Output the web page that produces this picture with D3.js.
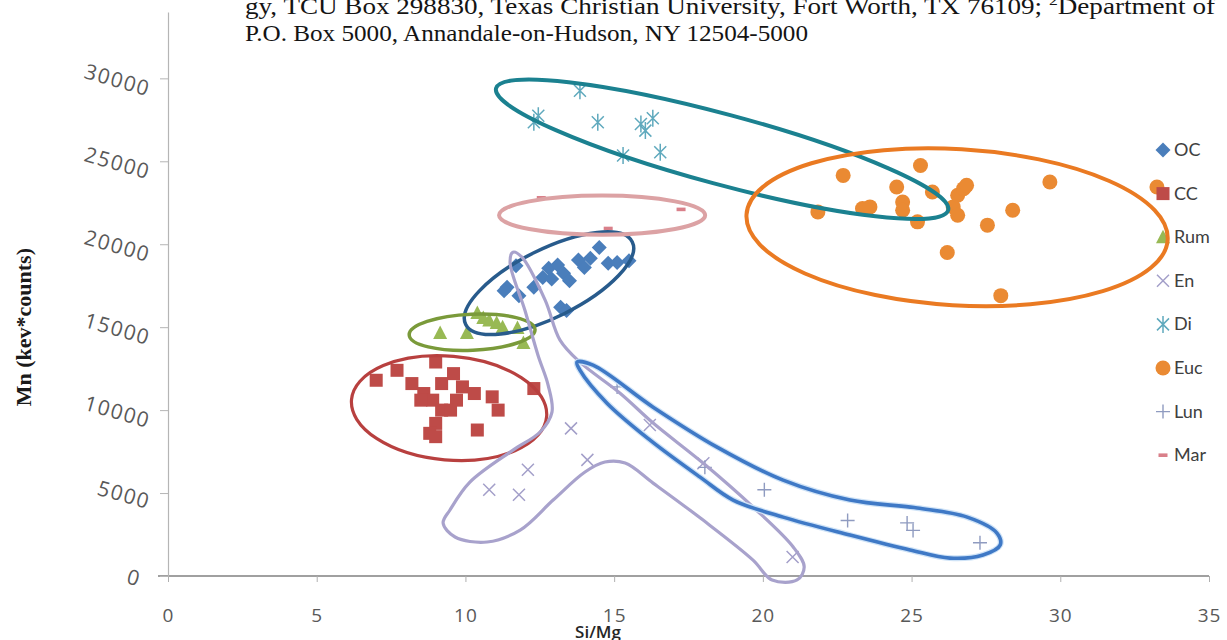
<!DOCTYPE html>
<html>
<head>
<meta charset="utf-8">
<script src="https://cdn.jsdelivr.net/npm/d3@7"></script>
<style>
  body { margin: 0; background: #fff; }
  svg { display: block; }
</style>
</head>
<body>
<svg id="chart" width="1227" height="640"></svg>
<script>
// Si/Mg ratio against Mn (kev*counts) for meteorite groups, with hand-drawn group outlines.

const xTicks = [0, 5, 10, 15, 20, 25, 30, 35];
const yTicks = [0, 5000, 10000, 15000, 20000, 25000, 30000];
const seriesNames = ["OC", "CC", "Rum", "En", "Di", "Euc", "Lun", "Mar"];

// [Si/Mg, Mn]
const ocData = [[11.7,18700],[11.4,17400],[11.3,17200],[11.8,16900],[12.3,17400],[12.6,18000],
  [12.8,18550],[13.1,18750],[13.3,18250],[13.5,17800],[13.8,19050],[14.2,19150],[14.5,19800],
  [14.8,18850],[15.1,18900],[15.5,19000],[13.2,16200],[13.4,16000],[12.9,17900],[14.0,18600]];
const ccData = [[7.0,11800],[7.7,12400],[9.0,12900],[8.2,11600],[8.6,11000],[8.9,10600],[9.2,10000],
  [9.0,9200],[8.8,8600],[9.6,12200],[9.9,11400],[9.7,10600],[10.3,11000],[9.5,10000],[10.4,8800],
  [10.9,10800],[11.1,10000],[12.3,11300],[8.5,10600],[9.2,11600],[9.0,8400]];
const rumData = [[9.15,14650],[10.05,14650],[10.4,15850],[10.6,15550],[10.8,15400],[11.05,15250],
  [11.25,15000],[11.75,14950],[11.95,14050]];
const enData = [[13.55,8900],[14.1,7000],[12.1,6400],[10.8,5200],[11.8,4900],[16.2,9100],
  [18.0,6800],[21.0,1150]];
const diData = [[12.45,27750],[12.3,27350],[13.85,29250],[14.45,27350],[15.9,27250],[16.05,26850],
  [16.3,27600],[15.3,25350],[16.55,25550]];
const eucData = [[22.7,24150],[21.85,21950],[23.35,22150],[23.6,22250],[24.5,23450],[24.7,22550],
  [24.7,22050],[25.3,24750],[25.2,21350],[25.7,23150],[26.2,19500],[26.4,22250],[26.55,21750],
  [26.55,22950],[26.75,23350],[26.85,23550],[27.55,21150],[28.4,22050],[29.65,23750],[28.0,16900],
  [33.25,23450]];
const lunData = [[15.1,11400],[18.05,6550],[20.05,5200],[22.85,3350],[24.85,3200],[25.05,2750],
  [27.3,2000]];
const marData = [[12.55,22800],[14.8,20950],[17.25,22100]];

// Elliptical group outlines: major-axis end points in data units, minor/major ratio
const ellipseOutlines = [
  { group: "Di",  from: [11.03, 29400], to: [26.23, 22050], ratio: 0.15 },
  { group: "Euc", from: [19.45, 21780], to: [33.61, 20270], ratio: 0.37 },
  { group: "OC",  from: [10.01, 15160], to: [15.61, 20140], ratio: 0.366 },
  { group: "Rum", from: [8.11, 14530],  to: [12.34, 14860], ratio: 0.286 },
  { group: "CC",  from: [6.17, 10630],  to: [12.73, 9610],  ratio: 0.53 },
  { group: "Mar", from: [11.13, 21750], to: [18.06, 21750], ratio: 0.19 }
];

// Free-form outlines (closed), data units
const lunOutline = [[13.75,12890],[14.29,12710],[16.31,10180],[18.46,7770],[20.68,5780],[22.93,4580],
  [25.19,4100],[26.87,3550],[27.87,2590],[27.98,1870],[27.40,1270],[26.29,1080],[24.95,1570],
  [22.93,2470],[20.68,3550],[19.00,4580],[17.89,5960],[16.21,8190],[14.76,10420],[13.85,12410]];
const enOutline = [[11.60,19520],[11.90,19220],[12.68,16630],[13.18,14220],[13.85,12890],[15.20,11020],
  [16.31,9220],[17.99,6810],[19.67,4160],[21.02,1750],[21.39,540],[21.15,-240],[20.31,-240],
  [19.67,960],[17.99,3370],[16.31,5600],[15.37,6810],[14.69,6870],[14.02,6270],[12.95,4580],
  [11.84,2770],[10.73,2050],[9.65,2350],[9.25,3190],[9.48,3980],[10.15,5660],[11.60,7590],
  [12.51,8680],[12.91,9880],[12.78,11510],[12.44,13310],[12.00,16020],[11.50,18920]];

const seriesData = { OC: ocData, CC: ccData, Rum: rumData, En: enData, Di: diData,
                     Euc: eucData, Lun: lunData, Mar: marData };

const markerColor = { OC: "#4a7ebb", CC: "#be4b48", Rum: "#98b954", En: "#a39fc9",
                      Di: "#5fa9bd", Euc: "#ea8a33", Lun: "#8f9bc0", Mar: "#d9808a" };
const outlineColor = { Di: "#1b8190", Euc: "#ea7a22", OC: "#285b8c", Rum: "#7a9a3a",
                       CC: "#b8403f", Mar: "#dca2a4", Lun: "#3f79c6", En: "#a8a2cc" };
const outlineWidth = { Di: 4, Euc: 4, OC: 3.5, Rum: 3.5, CC: 3.2, Mar: 4, Lun: 3.6, En: 3.2 };

const svg = d3.select("#chart");
const x = d3.scaleLinear().domain([0, 35]).range([168, 1209]);
const y = d3.scaleLinear().domain([0, 34000]).range([576, 12]);

// Header text of the page the chart sits on
const header = svg.append("g")
  .attr("font-family", "'Liberation Serif', 'Times New Roman', serif")
  .attr("font-size", 23).attr("fill", "#141414");
const l1 = header.append("text").attr("x", 245).attr("y", 14)
  .attr("textLength", 970).attr("lengthAdjust", "spacingAndGlyphs");
l1.append("tspan").text("gy, TCU Box 298830, Texas Christian University, Fort Worth, TX 76109; ");
l1.append("tspan").attr("font-size", 15).attr("dy", -9).text("2");
l1.append("tspan").attr("dy", 9).text("Department of");
header.append("text").attr("x", 245).attr("y", 41)
  .attr("textLength", 563).attr("lengthAdjust", "spacingAndGlyphs")
  .text("P.O. Box 5000, Annandale-on-Hudson, NY 12504-5000");

// Axes
const xAxis = svg.append("g").attr("transform", `translate(0,${y(0)})`)
  .call(d3.axisBottom(x).tickValues(xTicks).tickSize(6).tickSizeOuter(0).tickPadding(27));
xAxis.select(".domain").attr("stroke", "#808080").attr("stroke-width", 1.3)
  .attr("d", `M${x(0) - 10},0H${x(35)}`);
xAxis.selectAll(".tick line").attr("stroke", "#b0b0b0");
xAxis.selectAll(".tick text").attr("font-family", "'Open Sans', sans-serif")
  .attr("font-size", 19).attr("fill", "#595959").attr("letter-spacing", 1);

const yAxis = svg.append("g").attr("transform", `translate(${x(0)},0)`)
  .call(d3.axisLeft(y).tickValues(yTicks).tickSize(8).tickSizeOuter(0).tickFormat(d3.format("d")));
yAxis.select(".domain").attr("stroke", "#b5b5b5").attr("stroke-width", 1.2);
yAxis.selectAll(".tick line").attr("stroke", "#b5b5b5");
// Tilted tick labels: each rotated about its own centre, right edge kept near the axis
const tilt = 16, rad = tilt * Math.PI / 180;
yAxis.selectAll(".tick text")
  .attr("font-family", "'Open Sans', sans-serif").attr("font-size", 21).attr("fill", "#595959")
  .attr("letter-spacing", 1.5).attr("text-anchor", "middle")
  .attr("x", 0).attr("y", 0).attr("dy", "0.36em")
  .each(function () {
    const w = this.getComputedTextLength();
    const boxW = w * Math.cos(rad) + 15 * Math.sin(rad);
    const cx = -16 - boxW / 2 - Math.max(0, 40 - w) * 0.35;
    d3.select(this).attr("transform", `translate(${cx},1) rotate(${tilt})`);
  });

// Axis titles
svg.append("text").attr("x", 598).attr("y", 638).attr("text-anchor", "middle")
  .attr("font-family", "'Open Sans', sans-serif").attr("font-weight", 600)
  .attr("font-size", 17).attr("fill", "#262626").text("Si/Mg");
svg.append("text").attr("transform", `translate(31,${(y(0) + y(30000)) / 2}) rotate(-90)`)
  .attr("text-anchor", "middle")
  .attr("font-family", "'Liberation Serif', 'Times New Roman', serif").attr("font-weight", "bold")
  .attr("font-size", 22).attr("fill", "#1a1a1a").text("Mn (kev*counts)");

// Marker shapes
function drawMarker(g, name) {
  const c = markerColor[name];
  switch (name) {
    case "OC": g.append("path").attr("d", "M0,-7.5L7.5,0L0,7.5L-7.5,0Z").attr("fill", c); break;
    case "CC": g.append("rect").attr("x", -6.5).attr("y", -6.5).attr("width", 13).attr("height", 13).attr("fill", c); break;
    case "Rum": g.append("path").attr("d", "M0,-7.5L7,6L-7,6Z").attr("fill", c); break;
    case "En": g.append("path").attr("d", "M-6,-6L6,6M-6,6L6,-6").attr("stroke", c).attr("stroke-width", 1.5).attr("fill", "none"); break;
    case "Di": g.append("path").attr("d", "M-6,-6L6,6M-6,6L6,-6M0,-8.5L0,8.5").attr("stroke", c).attr("stroke-width", 1.5).attr("fill", "none"); break;
    case "Euc": g.append("circle").attr("r", 7.5).attr("fill", c); break;
    case "Lun": g.append("path").attr("d", "M-7,0L7,0M0,-7L0,7").attr("stroke", c).attr("stroke-width", 1.4).attr("fill", "none"); break;
    case "Mar": g.append("rect").attr("x", -4.5).attr("y", -1.8).attr("width", 9).attr("height", 3.6).attr("fill", c); break;
  }
}

// Points
const plot = svg.append("g");
seriesNames.forEach(name => {
  plot.append("g").selectAll("g").data(seriesData[name]).join("g")
    .attr("transform", d => `translate(${x(d[0])},${y(d[1])})`)
    .each(function () { drawMarker(d3.select(this), name); });
});

// Legend
const legend = svg.append("g");
seriesNames.forEach((name, i) => {
  const row = legend.append("g").attr("transform", `translate(1163,${150 + i * 43.6})`);
  drawMarker(row, name);
  row.append("text").attr("x", 11).attr("y", 6)
    .attr("font-family", "Lato, 'Open Sans', sans-serif").attr("font-size", 18).attr("fill", "#404040")
    .text(name);
});

// Group outlines
const outlines = svg.append("g").attr("fill", "none");
ellipseOutlines.forEach(e => {
  const x1 = x(e.from[0]), y1 = y(e.from[1]), x2 = x(e.to[0]), y2 = y(e.to[1]);
  const a = Math.hypot(x2 - x1, y2 - y1) / 2;
  const ang = Math.atan2(y2 - y1, x2 - x1) * 180 / Math.PI;
  outlines.append("ellipse")
    .attr("transform", `translate(${(x1 + x2) / 2},${(y1 + y2) / 2}) rotate(${ang})`)
    .attr("rx", a).attr("ry", a * e.ratio)
    .attr("stroke", outlineColor[e.group]).attr("stroke-width", outlineWidth[e.group]);
});
const closedCurve = d3.line().x(d => x(d[0])).y(d => y(d[1])).curve(d3.curveCatmullRomClosed.alpha(0.5));
outlines.append("path").attr("d", closedCurve(enOutline))
  .attr("stroke", outlineColor.En).attr("stroke-width", outlineWidth.En);
// Lunar outline: faint light-blue halo under the main stroke
outlines.append("path").attr("d", closedCurve(lunOutline))
  .attr("stroke", "#cfe3f7").attr("stroke-width", 6);
outlines.append("path").attr("d", closedCurve(lunOutline))
  .attr("stroke", outlineColor.Lun).attr("stroke-width", outlineWidth.Lun);
</script>
</body>
</html>
